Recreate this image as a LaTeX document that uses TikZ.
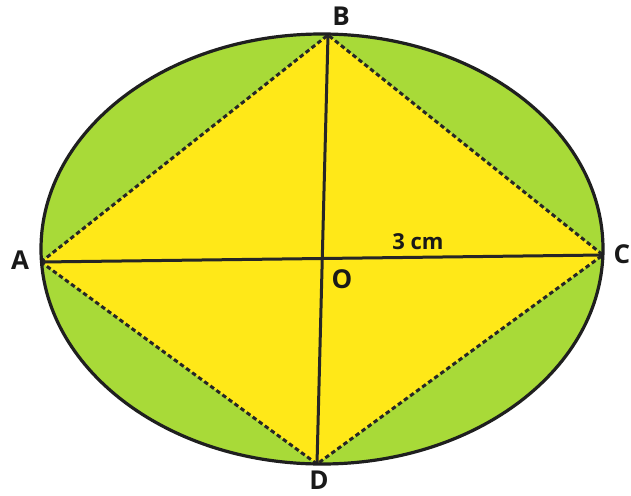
\documentclass[tikz,border=0pt]{standalone}
\usepackage{fontspec}
\setmainfont{Open Sans}
\begin{document}
\begin{tikzpicture}[x=1pt,y=-1pt,
  lbl/.style={font=\fontsize{26}{26}\selectfont\bfseries, text=black!90, inner sep=0pt},
  small/.style={font=\fontsize{22}{22}\selectfont\bfseries, text=black!90, inner sep=0pt},
  axisline/.style={line width=3pt, draw=black!85},
  dashedge/.style={line width=3pt, draw=black!85, dash pattern=on 4.5pt off 3pt},
  rim/.style={line width=3.2pt, draw=black!88}]
\definecolor{leaf}{RGB}{182,226,70}
\definecolor{leafdark}{RGB}{168,218,56}
\definecolor{sun}{RGB}{255,232,24}
\useasboundingbox (0,0) rectangle (631,495);
\coordinate (ctr) at (322,249);
\coordinate (A) at (41,262);
\coordinate (B) at (328,35);
\coordinate (C) at (603,255);
\coordinate (D) at (317,464);
\fill[leafdark] (ctr) ellipse [x radius=281pt, y radius=215pt];
\shade[inner color=leaf!60!white, outer color=leafdark, opacity=0.6] (ctr) ellipse [x radius=200pt, y radius=150pt];
\fill[sun] (A) -- (B) -- (C) -- (D) -- cycle;
\draw[dashedge] (A) -- (B) -- (C) -- (D) -- cycle;
\draw[axisline] (A) -- (C);
\draw[axisline] (B) -- (D);
\draw[rim] (ctr) ellipse [x radius=281pt, y radius=215pt];
\node[lbl] (lA) at (20,260) {A};
\node[lbl] (lB) at (341,16) {B};
\node[lbl] (lC) at (622,254) {C};
\node[lbl] (lD) at (319,480) {D};
\node[lbl] (lO) at (342,279) {O};
\node[small] (l3) at (418,242) {3 cm};
\end{tikzpicture}
\end{document}
